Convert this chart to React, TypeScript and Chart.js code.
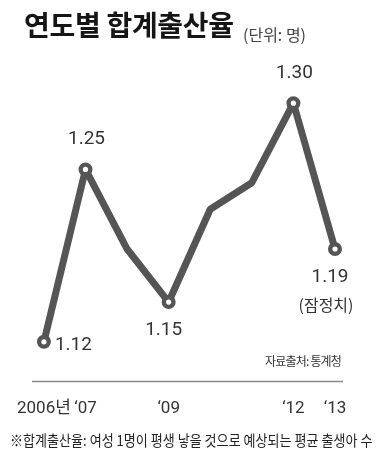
import React, { useEffect, useRef } from 'react';
import { Chart, registerables } from 'chart.js';

Chart.register(...registerables);

// ---- data ----
const years = ['2006', '2007', '2008', '2009', '2010', '2011', '2012', '2013'];
const tickLabels = ['2006년', '‘07', '', '‘09', '', '', '‘12', '‘13'];
const fertilityRate = [1.12, 1.25, 1.19, 1.15, 1.22, 1.24, 1.3, 1.19];
const labeledPoints = [true, true, false, true, false, false, true, true];
const labelNotes = ['', '', '', '', '', '', '', '(잠정치)'];

const titleText = '연도별 합계출산율';
const unitText = '(단위: 명)';
const sourceText = '자료출처: 통계청';
const footnoteText = '※합계출산율: 여성 1명이 평생 낳을 것으로 예상되는 평균 출생아 수';

// ---- style ----
const LINE_COLOR = '#555555';
const TEXT_COLOR = '#333333';
// where each value label sits relative to its point
const labelPlacement = ['right', 'above', '', 'below', '', '', 'above', 'below'];

const axisLinePlugin = {
  id: 'axisLine',
  beforeDatasetsDraw(chart: any) {
    const { ctx, chartArea } = chart;
    ctx.save();
    ctx.strokeStyle = '#8a8a8a';
    ctx.lineWidth = 1.5;
    ctx.beginPath();
    ctx.moveTo(chartArea.left - 12, chartArea.bottom);
    ctx.lineTo(chartArea.right + 8, chartArea.bottom);
    ctx.stroke();
    ctx.restore();
  },
};

const valueLabelPlugin = {
  id: 'valueLabels',
  afterDatasetsDraw(chart: any) {
    const { ctx } = chart;
    const meta = chart.getDatasetMeta(0);
    ctx.save();
    ctx.fillStyle = TEXT_COLOR;
    meta.data.forEach((pt: any, i: number) => {
      if (!labeledPoints[i]) return;
      const txt = fertilityRate[i].toFixed(2);
      const place = labelPlacement[i];
      ctx.font = '19px Roboto, "Noto Sans CJK KR", sans-serif';
      ctx.textBaseline = 'middle';
      if (place === 'right') {
        ctx.textAlign = 'left';
        ctx.fillText(txt, pt.x + 11, pt.y + 3);
      } else if (place === 'above') {
        ctx.textAlign = 'center';
        ctx.fillText(txt, pt.x + 1, pt.y - 30);
      } else {
        ctx.textAlign = 'center';
        ctx.fillText(txt, pt.x - 5, pt.y + 28);
        if (labelNotes[i]) {
          ctx.font = '16px "Noto Sans CJK KR", sans-serif';
          ctx.fillText(labelNotes[i], pt.x - 9, pt.y + 56);
        }
      }
    });
    ctx.restore();
  },
};

function LineChart() {
  const ref = useRef<HTMLCanvasElement>(null);
  useEffect(() => {
    if (!ref.current) return;
    const chart = new Chart(ref.current, {
      type: 'line',
      data: {
        labels: years,
        datasets: [
          {
            data: fertilityRate,
            borderColor: LINE_COLOR,
            borderWidth: 7,
            borderJoinStyle: 'round',
            borderCapStyle: 'round',
            tension: 0,
            clip: false,
            pointRadius: labeledPoints.map((v) => (v ? 4.8 : 0)),
            pointHoverRadius: labeledPoints.map((v) => (v ? 4.8 : 0)),
            pointBorderWidth: 4.4,
            pointBorderColor: LINE_COLOR,
            pointBackgroundColor: '#ffffff',
          } as any,
        ],
      },
      options: {
        animation: false,
        responsive: false,
        maintainAspectRatio: false,
        layout: { padding: { top: 70, left: 42, right: 54, bottom: 23 } },
        plugins: { legend: { display: false }, tooltip: { enabled: false } },
        scales: {
          x: {
            offset: false,
            grid: { display: false, drawTicks: false },
            border: { display: false },
            ticks: {
              autoSkip: false,
              maxRotation: 0,
              padding: 17,
              color: TEXT_COLOR,
              font: { family: 'Roboto, "Noto Sans CJK KR", sans-serif', size: 17 },
              callback: (_v: any, i: number) => tickLabels[i],
            },
          },
          y: { display: false, min: 1.09, max: 1.325 },
        },
      },
      plugins: [axisLinePlugin, valueLabelPlugin],
    });
    return () => chart.destroy();
  }, []);
  return <canvas ref={ref} width={389} height={459} style={{ position: 'absolute', left: 0, top: 0 }} />;
}

export default function App() {
  return (
    <div
      style={{
        position: 'fixed',
        left: 0,
        top: 0,
        width: 389,
        height: 459,
        background: '#ffffff',
        overflow: 'hidden',
        fontFamily: '"Noto Sans CJK KR", sans-serif',
      }}
    >
      <LineChart />
      <div style={{ position: 'absolute', left: 24, top: 10, fontSize: 28, fontWeight: 700, lineHeight: 1, color: '#151515', whiteSpace: 'nowrap', letterSpacing: -0.3 }}>
        {titleText}
      </div>
      <div style={{ position: 'absolute', left: 243, top: 26, fontSize: 16, lineHeight: 1, color: '#444', whiteSpace: 'nowrap' }}>
        {unitText}
      </div>
      <div style={{ position: 'absolute', left: 265, top: 355, fontSize: 12, lineHeight: 1, color: '#333', whiteSpace: 'nowrap', letterSpacing: -0.8 }}>
        {sourceText}
      </div>
      <div style={{ position: 'absolute', left: 10, top: 432, fontSize: 15, lineHeight: 1, color: '#222', whiteSpace: 'nowrap', transform: 'scaleX(0.87)', transformOrigin: 'left top' }}>
        {footnoteText}
      </div>
    </div>
  );
}
